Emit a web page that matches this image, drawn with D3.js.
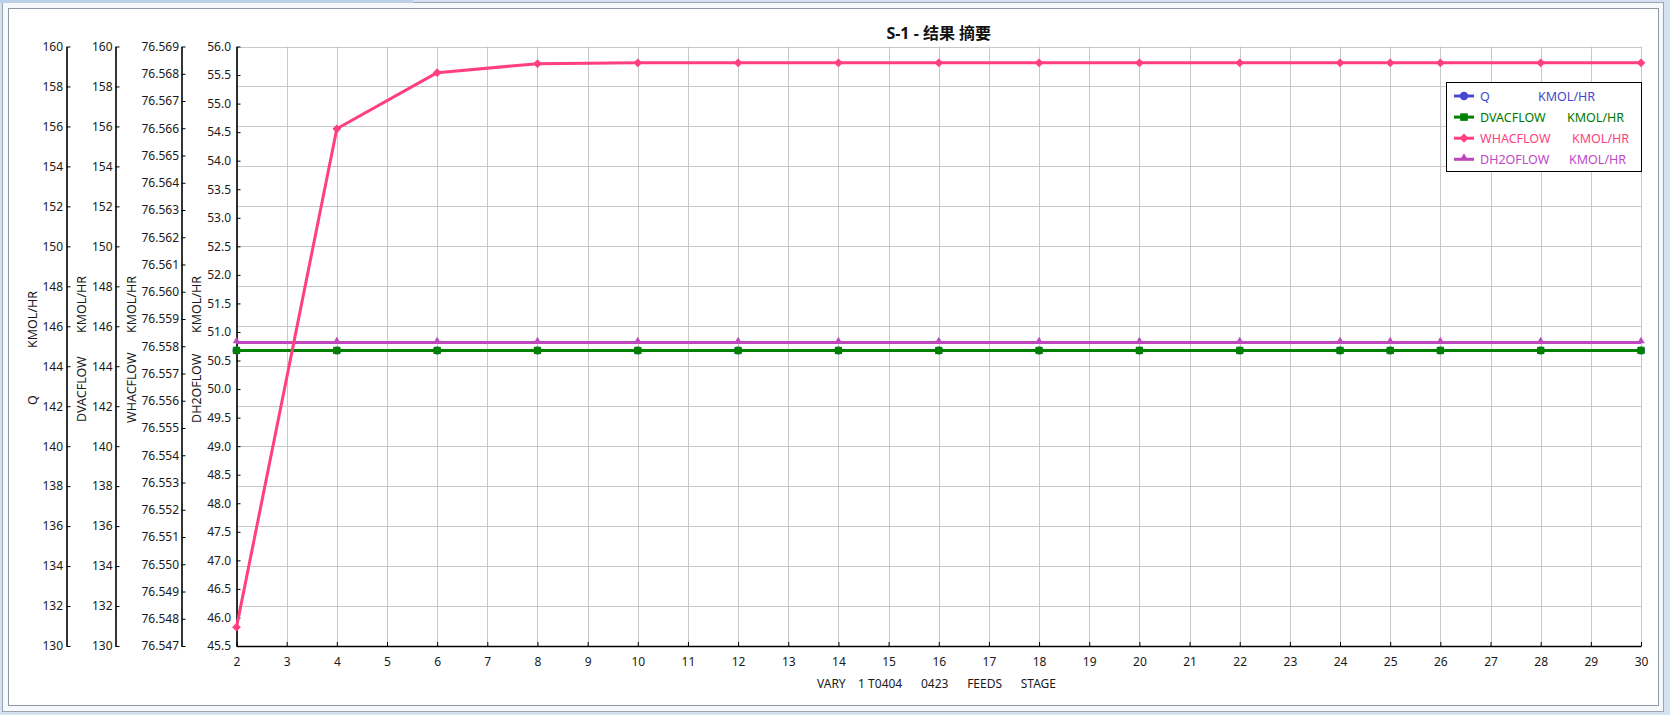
<!DOCTYPE html>
<html><head><meta charset="utf-8">
<script src="https://cdn.jsdelivr.net/npm/d3@7"></script>
<style>
html,body{margin:0;padding:0;background:#fff;}
svg{display:block;font-family:"Noto Sans","Noto Sans CJK SC",sans-serif;}
</style></head><body>
<svg id="chart" width="1670" height="715"></svg>
<script>
// ---------------- data ----------------
const stages = [2, 4, 6, 8, 10, 12, 14, 16, 18, 20, 22, 24, 25, 26, 28, 30];
const qValues        = [144.79, 144.79, 144.79, 144.79, 144.79, 144.79, 144.79, 144.79, 144.79, 144.79, 144.79, 144.79, 144.79, 144.79, 144.79, 144.79];
const dvacflowValues = [144.79, 144.79, 144.79, 144.79, 144.79, 144.79, 144.79, 144.79, 144.79, 144.79, 144.79, 144.79, 144.79, 144.79, 144.79, 144.79];
const whacflowValues = [76.54769, 76.56598, 76.56804, 76.56837, 76.56840, 76.56840, 76.56840, 76.56840, 76.56840, 76.56840, 76.56840, 76.56840, 76.56840, 76.56840, 76.56840, 76.56840];
const dh2oflowValues = [50.815, 50.815, 50.815, 50.815, 50.815, 50.815, 50.815, 50.815, 50.815, 50.815, 50.815, 50.815, 50.815, 50.815, 50.815, 50.815];

const xTickLabels = [2, 3, 4, 5, 6, 7, 8, 9, 10, 11, 12, 13, 14, 15, 16, 17, 18, 19, 20, 21, 22, 23, 24, 25, 26, 27, 28, 29, 30];
const qTicks = [130, 132, 134, 136, 138, 140, 142, 144, 146, 148, 150, 152, 154, 156, 158, 160];
const dvacTicks = [130, 132, 134, 136, 138, 140, 142, 144, 146, 148, 150, 152, 154, 156, 158, 160];
const whacTicks = [76.547, 76.548, 76.549, 76.550, 76.551, 76.552, 76.553, 76.554, 76.555, 76.556, 76.557, 76.558, 76.559, 76.560, 76.561, 76.562, 76.563, 76.564, 76.565, 76.566, 76.567, 76.568, 76.569];
const dh2oTicks = [45.5, 46.0, 46.5, 47.0, 47.5, 48.0, 48.5, 49.0, 49.5, 50.0, 50.5, 51.0, 51.5, 52.0, 52.5, 53.0, 53.5, 54.0, 54.5, 55.0, 55.5, 56.0];

const seriesNames = ["Q", "DVACFLOW", "WHACFLOW", "DH2OFLOW"];
const unitLabel = "KMOL/HR";
const chartTitle = "S-1 - 结果 摘要";
const xTitle = "VARY    1 T0404      0423      FEEDS      STAGE";

// ---------------- layout ----------------
const svg = d3.select("#chart");
const W = 1670, H = 715;
const L = 236.5, R = 1641, T = 46.5, B = 646;

// window frame
svg.append("rect").attr("x",0).attr("y",0).attr("width",W).attr("height",H).attr("fill","#d5e1ef");
svg.append("rect").attr("x",2.5).attr("y",2.5).attr("width",1661).attr("height",709).attr("fill","#f6f8fb").attr("stroke","#9ba5b1");
svg.append("rect").attr("x",0).attr("y",0).attr("width",413).attr("height",3).attr("fill","#bcd0e8");
svg.append("rect").attr("x",8.5).attr("y",8.5).attr("width",1650).attr("height",697).attr("fill","#ffffff").attr("stroke","#8e98a4");

const x = d3.scaleLinear().domain([2, 30]).range([L, R]);
const yQ = d3.scaleLinear().domain([130, 160]).range([B, T]);
const yD = d3.scaleLinear().domain([130, 160]).range([B, T]);
const yW = d3.scaleLinear().domain([76.547, 76.569]).range([B, T]);
const yH = d3.scaleLinear().domain([45.5, 56.0]).range([B, T]);

// grid
const grid = svg.append("g").attr("stroke","#c8c8c8").attr("stroke-width",1);
grid.selectAll("line.v").data(xTickLabels).join("line")
  .attr("x1", d => Math.round(x(d)) + 0.5).attr("x2", d => Math.round(x(d)) + 0.5)
  .attr("y1", T).attr("y2", B);
grid.selectAll("line.h").data(qTicks).join("line")
  .attr("x1", L).attr("x2", R + 0.5)
  .attr("y1", d => Math.round(yQ(d)) + 0.5).attr("y2", d => Math.round(yQ(d)) + 0.5);

// axes
function styleAxis(g){
  g.select(".domain").attr("stroke","#000").attr("stroke-width",1.6);
  g.selectAll(".tick line").attr("stroke","#000").attr("stroke-width",1);
  g.selectAll(".tick text").attr("fill","#1a1a1a").style("font-size","12px")
    .style("font-family",'"Noto Sans",sans-serif');
}
const axisDefs = [
  {scale: yQ, ticks: qTicks, fmt: d3.format("d"), xPos: 66.5, pad: 3.5},
  {scale: yD, ticks: dvacTicks, fmt: d3.format("d"), xPos: 115.5, pad: 3},
  {scale: yW, ticks: whacTicks, fmt: d3.format(".3f"), xPos: 181.5, pad: 2.5},
  {scale: yH, ticks: dh2oTicks, fmt: d3.format(".1f"), xPos: 236.5, pad: 5.5}
];
axisDefs.forEach(a => {
  const g = svg.append("g").attr("transform", `translate(${a.xPos},0)`)
    .call(d3.axisLeft(a.scale).tickValues(a.ticks).tickFormat(a.fmt).tickSizeInner(-4).tickSizeOuter(0).tickPadding(a.pad));
  styleAxis(g);
});
const xg = svg.append("g").attr("transform", `translate(0,${B})`)
  .call(d3.axisBottom(x).tickValues(xTickLabels).tickFormat(d3.format("d")).tickSizeInner(-4).tickSizeOuter(0).tickPadding(11));
styleAxis(xg);

// axis titles (rotated)
const titleDefs = [
  {name: seriesNames[0], cx: 32.7, nameStart: 405, unitStart: 348},
  {name: seriesNames[1], cx: 81.7, nameStart: 422, unitStart: 333},
  {name: seriesNames[2], cx: 131, nameStart: 423, unitStart: 333},
  {name: seriesNames[3], cx: 196.7, nameStart: 423, unitStart: 333}
];
titleDefs.forEach(t => {
  [[t.name, t.nameStart], [unitLabel, t.unitStart]].forEach(([txt, y0]) => {
    svg.append("text").attr("transform", `translate(${t.cx},${y0}) rotate(-90)`)
      .attr("text-anchor","start").attr("dominant-baseline","central")
      .attr("fill","#1a1a1a").style("font-size","12.5px").text(txt);
  });
});

// chart title
svg.append("text").attr("x", (L + R) / 2).attr("y", 33).attr("text-anchor","middle")
  .attr("dominant-baseline","central").style("font-size","16px").style("font-weight","bold")
  .attr("fill","#111").text(chartTitle);

// x title
svg.append("text").attr("x", 817).attr("y", 683).attr("text-anchor","start")
  .attr("dominant-baseline","central").style("font-size","12px").style("white-space","pre")
  .attr("xml:space","preserve").attr("fill","#1a1a1a").text(xTitle);

// series
const series = [
  {name: seriesNames[0], values: qValues, y: yQ, color: "#4848cc", sym: "circle"},
  {name: seriesNames[1], values: dvacflowValues, y: yD, color: "#008000", sym: "square"},
  {name: seriesNames[3], values: dh2oflowValues, y: yH, color: "#bf46bf", sym: "triangle"},
  {name: seriesNames[2], values: whacflowValues, y: yW, color: "#ff3f80", sym: "diamond"}
];
function drawMarker(g, sym, color, cx, cy, scale){
  const s = scale || 1;
  if (sym === "circle") {
    g.append("circle").attr("cx",cx).attr("cy",cy).attr("r",4*s).attr("fill",color);
  } else if (sym === "square") {
    g.append("path").attr("d", d3.symbol(d3.symbolSquare, 52*s*s)()).attr("transform",`translate(${cx},${cy})`).attr("fill",color);
  } else if (sym === "diamond") {
    g.append("path").attr("d", d3.symbol(d3.symbolSquare, 38*s*s)()).attr("transform",`translate(${cx},${cy}) rotate(45)`).attr("fill",color);
  } else {
    g.append("path").attr("d", d3.symbol(d3.symbolTriangle, 24*s*s)()).attr("transform",`translate(${cx},${cy-1.5})`).attr("fill",color);
  }
}
series.forEach(s => {
  const g = svg.append("g");
  const pts = stages.map((st, i) => [x(st), s.y(s.values[i])]);
  g.append("path").attr("d", d3.line()(pts)).attr("fill","none").attr("stroke", s.color)
    .attr("stroke-width",3).attr("stroke-linejoin","round");
  pts.forEach(p => drawMarker(g, s.sym, s.color, p[0], p[1]));
});

// legend
const lg = svg.append("g");
lg.append("rect").attr("x",1446.5).attr("y",82.5).attr("width",195).attr("height",89)
  .attr("fill","#fff").attr("stroke","#000").attr("stroke-width",1);
const legendItems = [
  {name: seriesNames[0], color: "#4848cc", text: "#4848cc", sym: "circle", unitX: 1538},
  {name: seriesNames[1], color: "#008000", text: "#007a00", sym: "square", unitX: 1567},
  {name: seriesNames[2], color: "#ff3f80", text: "#ff3f80", sym: "diamond", unitX: 1572},
  {name: seriesNames[3], color: "#bf46bf", text: "#c048c8", sym: "triangle", unitX: 1569}
];
legendItems.forEach((it, i) => {
  const cy = 96 + i * 21.1;
  lg.append("line").attr("x1",1454).attr("x2",1474).attr("y1",cy).attr("y2",cy)
    .attr("stroke",it.color).attr("stroke-width",3);
  drawMarker(lg, it.sym, it.color, 1464, cy, 1.05);
  lg.append("text").attr("x",1480).attr("y",cy).attr("dominant-baseline","central")
    .style("font-size","12.5px").attr("fill",it.text).text(it.name);
  lg.append("text").attr("x",it.unitX).attr("y",cy).attr("dominant-baseline","central")
    .style("font-size","12.5px").attr("fill",it.text).text(unitLabel);
});
</script>
</body></html>
